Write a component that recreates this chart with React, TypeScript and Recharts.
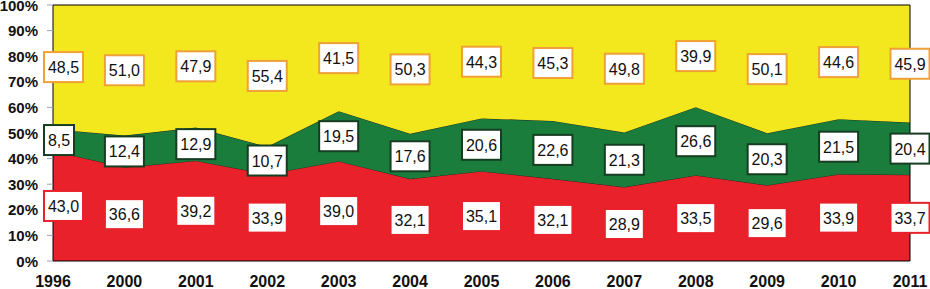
import React from 'react';
import { AreaChart, Area, Line, XAxis, YAxis, LabelList, ReferenceArea } from 'recharts';

const years = ['1996', '2000', '2001', '2002', '2003', '2004', '2005', '2006', '2007', '2008', '2009', '2010', '2011'];
const redValues = [43.0, 36.6, 39.2, 33.9, 39.0, 32.1, 35.1, 32.1, 28.9, 33.5, 29.6, 33.9, 33.7];
const greenValues = [8.5, 12.4, 12.9, 10.7, 19.5, 17.6, 20.6, 22.6, 21.3, 26.6, 20.3, 21.5, 20.4];
const yellowValues = [48.5, 51.0, 47.9, 55.4, 41.5, 50.3, 44.3, 45.3, 49.8, 39.9, 50.1, 44.6, 45.9];
const yTicks = [0, 10, 20, 30, 40, 50, 60, 70, 80, 90, 100];

const data = years.map((year, i) => ({
  year,
  red: redValues[i],
  green: greenValues[i],
  yellow: yellowValues[i],
  redMid: redValues[i] / 2,
  greenMid: redValues[i] + greenValues[i] / 2,
  yellowMid: redValues[i] + greenValues[i] + yellowValues[i] / 2,
}));

const RED = '#e9212a';
const GREEN = '#1a7d3b';
const YELLOW = '#f3e81d';
const FONT = 'Liberation Sans, Arial, sans-serif';

const makeLabel = (border: string) => (props: any) => {
  const { x, y, value, index } = props;
  if (value == null || x == null || y == null) return null;
  const txt = Number(value).toFixed(1).replace('.', ',');
  const textW = txt.length === 3 ? 22 : 31;
  const w = textW + 8;
  const h = 30;
  let left = x - w / 2;
  if (index === 0) left = x - 9;
  return (
    <g>
      <rect x={left} y={y - h / 2} width={w} height={h} fill="#fff" stroke={border} strokeWidth={2} />
      <text x={left + w / 2} y={y + 6} textAnchor="middle" fontFamily={FONT} fontSize={16} fill="#111">
        {txt}
      </text>
    </g>
  );
};

const XTick = (props: any) => {
  const { x, y, payload } = props;
  return (
    <text x={x} y={y + 26} textAnchor="middle" fontFamily={FONT} fontWeight="bold" fontSize={16} fill="#111">
      {payload.value}
    </text>
  );
};

const YTick = (props: any) => {
  const { y, payload } = props;
  return (
    <text x={38} y={y + 5.5} textAnchor="end" fontFamily={FONT} fontWeight="bold" fontSize={15} fill="#111">
      {payload.value}%
    </text>
  );
};

export default function App() {
  return (
    <div style={{ position: 'absolute', left: 0, top: 0, width: 930, height: 289, background: '#fff' }}>
      <AreaChart width={930} height={289} data={data} margin={{ top: 5, right: 20, bottom: 0, left: 0 }}>
        <XAxis dataKey="year" height={28} tickSize={0} tickMargin={0} axisLine={false} tickLine={false} tick={<XTick />} interval={0} />
        <YAxis
          width={53}
          domain={[0, 100]}
          ticks={yTicks}
          interval={0}
          tickSize={6}
          tickLine={{ stroke: '#9aa4b8' }}
          axisLine={false}
          tick={<YTick />}
        />
        <Area type="linear" dataKey="red" stackId="s" fill={RED} fillOpacity={1} stroke="#1c2a1c" strokeWidth={1} isAnimationActive={false} />
        <Area type="linear" dataKey="green" stackId="s" fill={GREEN} fillOpacity={1} stroke="#1c2a1c" strokeWidth={1} isAnimationActive={false} />
        <Area type="linear" dataKey="yellow" stackId="s" fill={YELLOW} fillOpacity={1} stroke="none" isAnimationActive={false} />
        <ReferenceArea x1="1996" x2="2011" y1={0} y2={100} fill="none" stroke="#000" strokeWidth={1} ifOverflow="visible" />
        <Line type="linear" dataKey="redMid" stroke="none" dot={false} activeDot={false} isAnimationActive={false}>
          <LabelList dataKey="red" content={makeLabel(RED)} />
        </Line>
        <Line type="linear" dataKey="greenMid" stroke="none" dot={false} activeDot={false} isAnimationActive={false}>
          <LabelList dataKey="green" content={makeLabel('#173d22')} />
        </Line>
        <Line type="linear" dataKey="yellowMid" stroke="none" dot={false} activeDot={false} isAnimationActive={false}>
          <LabelList dataKey="yellow" content={makeLabel('#f0a038')} />
        </Line>
      </AreaChart>
    </div>
  );
}
